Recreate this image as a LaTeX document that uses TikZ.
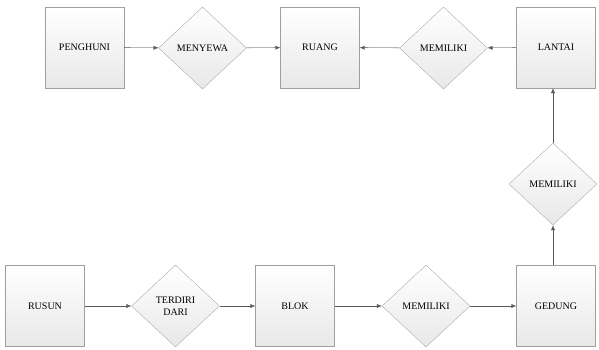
\documentclass[tikz,border=0pt]{standalone}
\usepackage{fontspec}
\setmainfont{Liberation Serif}
\usetikzlibrary{shapes.geometric,arrows.meta}
\begin{document}
\begin{tikzpicture}[x=1pt,y=-1pt,
	entitas/.style={rectangle, draw=gray!75, top color=white, bottom color=gray!18, minimum width=79pt, minimum height=81pt, inner sep=0pt, font=\fontsize{10}{11}\selectfont},
	relasi/.style={diamond, draw=gray!65, top color=white, bottom color=gray!18, minimum width=88pt, minimum height=82pt, inner sep=0pt, align=center, font=\fontsize{10}{12}\selectfont},
	panah/.style={-{Latex[length=5pt,width=4pt]}, draw=black!65, fill=black!65}]
	\useasboundingbox (0,0) rectangle (599,349);
	% baris atas
	\node (penghuni) at (84.5,47.5) [entitas] {PENGHUNI};
	\node (menyewa) at (202.5,48) [relasi] {MENYEWA};
	\node (ruang) at (320,47.5) [entitas] {RUANG};
	\node (memiliki1) at (443.5,48) [relasi] {MEMILIKI};
	\node (lantai) at (556,47.5) [entitas] {LANTAI};
	% kolom kanan
	\node (memiliki2) at (553,184) [relasi] {MEMILIKI};
	% baris bawah
	\node (rusun) at (45,306) [entitas] {RUSUN};
	\node (terdiri) at (175.5,306) [relasi] {TERDIRI\\DARI};
	\node (blok) at (295,306) [entitas] {BLOK};
	\node (memiliki3) at (426,306) [relasi] {MEMILIKI};
	\node (gedung) at (556,306) [entitas] {GEDUNG};
	\draw[panah] (penghuni) -- (menyewa);
	\draw[panah] (menyewa) -- (ruang);
	\draw[panah] (memiliki1) -- (ruang);
	\draw[panah] (lantai) -- (memiliki1);
	\draw[panah] (memiliki2.north) -- (lantai.south -| memiliki2.north);
	\draw[panah] (gedung.north -| memiliki2.south) -- (memiliki2);
	\draw[panah] (rusun) -- (terdiri);
	\draw[panah] (terdiri) -- (blok);
	\draw[panah] (blok) -- (memiliki3);
	\draw[panah] (memiliki3) -- (gedung);
\end{tikzpicture}
\end{document}
